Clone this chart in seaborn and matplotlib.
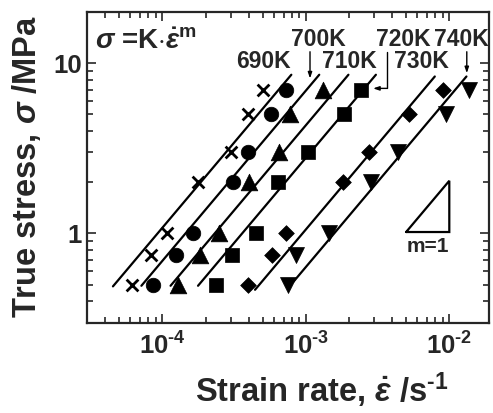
import numpy as np
import pandas as pd
import matplotlib
matplotlib.use("Agg")
import matplotlib.pyplot as plt
import seaborn as sns
from matplotlib.ticker import FixedLocator, FuncFormatter, NullFormatter

# ---------------- data ----------------
temps = ["690K", "700K", "710K", "720K", "730K", "740K"]
stress = [7, 5, 3, 2, 1, 0.75, 0.5]           # MPa
rate_690K = [5.0e-4, 3.95e-4, 3.0e-4, 1.77e-4, 1.07e-4, 8.4e-5, 6.1e-5]
rate_700K = [7.3e-4, 5.7e-4, 3.95e-4, 3.1e-4, 1.63e-4, 1.25e-4, 8.6e-5]
rate_710K = [1.31e-3, 7.7e-4, 6.55e-4, 4.05e-4, 2.5e-4, 1.82e-4, 1.28e-4]
rate_720K = [2.43e-3, 1.86e-3, 1.03e-3, 6.4e-4, 4.5e-4, 3.07e-4, 2.35e-4]
rate_730K = [8.97e-3, 5.26e-3, 2.77e-3, 1.83e-3, 7.3e-4, 5.83e-4, 3.94e-4]
rate_740K = [1.376e-2, 9.47e-3, 4.36e-3, 2.85e-3, 1.46e-3, 8.56e-4, 7.48e-4]
rates = [rate_690K, rate_700K, rate_710K, rate_720K, rate_730K, rate_740K]

# fitted lines sigma = K * rate^m
fit_m = 1.0
fit_K = [10800, 6900, 4320, 2780, 1055, 635]
fit_sig_lo = [0.489, 0.493, 0.493, 0.493, 0.467, 0.522]
fit_sig_hi = [8.56, 8.56, 8.56, 8.56, 8.36, 8.36]

# slope triangle m=1
tri_x = [5.0e-3, 1.0e-2, 1.0e-2, 5.0e-3]
tri_y = [1.02, 1.02, 2.04, 1.02]

x_major = [1e-4, 1e-3, 1e-2]
y_major = [1, 10]

# ---------------- style ----------------
sns.set_style("ticks")
plt.rcParams["font.family"] = ["Liberation Sans", "DejaVu Sans"]
plt.rcParams["font.weight"] = "bold"
plt.rcParams["mathtext.fontset"] = "custom"
plt.rcParams["mathtext.rm"] = "Liberation Sans:bold"
plt.rcParams["mathtext.bf"] = "Liberation Sans:bold"
plt.rcParams["mathtext.it"] = "Liberation Sans:bold:italic"
plt.rcParams["axes.linewidth"] = 1.6

fig = plt.figure(figsize=(4.93, 4.13), dpi=100)
ax = fig.add_axes([87.3 / 493, (413 - 322.5) / 413, 402 / 493, 310.5 / 413])
ax.set_xscale("log")
ax.set_yscale("log")

rows = []
for t, r in zip(temps, rates):
    for s, e in zip(stress, r):
        rows.append({"T": t, "rate": e, "stress": s})
df = pd.DataFrame(rows)

markers = {"690K": "x", "700K": "o", "710K": "^", "720K": "s", "730K": "D", "740K": "v"}
msize = {"690K": 8.5, "700K": 10.5, "710K": 12, "720K": 10, "730K": 8, "740K": 11.5}

# fit lines
for t, K, lo, hi in zip(temps, fit_K, fit_sig_lo, fit_sig_hi):
    sig = np.array([lo, hi])
    ld = pd.DataFrame({"rate": (sig / K) ** (1 / fit_m), "stress": sig})
    sns.lineplot(data=ld, x="rate", y="stress", color="k", lw=1.6,
                 estimator=None, sort=False, ax=ax, zorder=2)

for t in temps:
    sub = df[df["T"] == t]
    if markers[t] == "x":
        sns.scatterplot(data=sub, x="rate", y="stress", marker="x", s=msize[t] ** 2,
                        color="k", linewidth=2.0, ax=ax, legend=False, zorder=3)
    else:
        sns.scatterplot(data=sub, x="rate", y="stress", marker=markers[t], s=msize[t] ** 2,
                        color="k", edgecolor="k", linewidth=0.5, ax=ax, legend=False, zorder=3)

ax.plot(tri_x, tri_y, color="k", lw=1.6, solid_joinstyle="miter")

ax.set_xlim(3e-5, 1.9e-2)
ax.set_ylim(0.3, 20)

# ticks
ax.xaxis.set_major_locator(FixedLocator(x_major))
ax.yaxis.set_major_locator(FixedLocator(y_major))
xminor = [m * 10.0 ** d for d in (-5, -4, -3) for m in range(2, 10)]
xminor = [v for v in xminor if 3.2e-5 < v < 1.85e-2]
yminor = [m * 10.0 ** d for d in (-1, 0) for m in range(2, 10)]
yminor = [v for v in yminor if 0.32 < v < 19]
ax.xaxis.set_minor_locator(FixedLocator(xminor))
ax.yaxis.set_minor_locator(FixedLocator(yminor))
ax.xaxis.set_minor_formatter(NullFormatter())
ax.yaxis.set_minor_formatter(NullFormatter())
ax.xaxis.set_major_formatter(
    FuncFormatter(lambda v, p: r"$10^{\text{-%d}}$" % abs(int(round(np.log10(v))))))
ax.yaxis.set_major_formatter(FuncFormatter(lambda v, p: "%d" % int(round(v))))
ax.tick_params(which="both", direction="in", top=True, right=True, width=1.2, labelsize=18.5)
ax.tick_params(which="major", length=6.5)
ax.tick_params(which="minor", length=4)
ax.tick_params(axis="x", which="major", pad=7)
ax.tick_params(axis="y", which="major", pad=4)
for lab in ax.get_xticklabels() + ax.get_yticklabels():
    lab.set_fontweight("bold")

ax.set_xlabel(r"Strain rate, $\dot{\varepsilon}$ /s$^{\text{-1}}$", fontsize=23.5, fontweight="bold")
ax.set_ylabel(r"True stress, $\sigma$ /MPa", fontsize=23.5, fontweight="bold")
ax.xaxis.set_label_coords(0.583, -0.217)
ax.xaxis.label.set_va("center")
ax.yaxis.set_label_coords(-0.151, 0.502)
ax.yaxis.label.set_va("center")

# annotations
ax.text(0.019, 0.903, r"$\sigma$ =K$\cdot\dot{\varepsilon}^{\mathrm{m}}$", transform=ax.transAxes,
        fontsize=20, fontweight="bold", ha="left", va="center")
lab_pos = {"690K": (0.437, 0.839), "700K": (0.574, 0.910), "710K": (0.651, 0.839),
           "720K": (0.785, 0.910), "730K": (0.832, 0.839), "740K": (0.931, 0.910)}
for t in temps:
    ax.text(*lab_pos[t], t, transform=ax.transAxes, fontsize=16.5, fontweight="bold",
            ha="center", va="center")

arrow_kw = dict(arrowstyle="-|>,head_length=0.35,head_width=0.12", lw=1.0, color="k",
                shrinkA=0, shrinkB=0)
ax.annotate("", xy=(0.554, 0.786), xytext=(0.554, 0.872), xycoords="axes fraction",
            arrowprops=arrow_kw)
ax.plot([0.745, 0.745], [0.872, 0.754], transform=ax.transAxes, color="k", lw=1.0)
ax.annotate("", xy=(0.711, 0.754), xytext=(0.745, 0.754), xycoords="axes fraction",
            arrowprops=arrow_kw)
ax.annotate("", xy=(0.944, 0.803), xytext=(0.944, 0.872), xycoords="axes fraction",
            arrowprops=arrow_kw)

ax.text(0.8475, 0.246, "m=1", transform=ax.transAxes, fontsize=15, fontweight="bold",
        ha="center", va="center")

fig.savefig("out.png", dpi=100)
